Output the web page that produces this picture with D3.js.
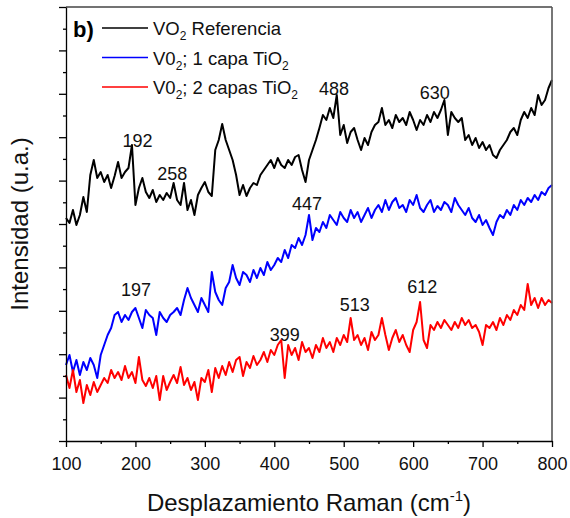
<!DOCTYPE html>
<html>
<head>
<meta charset="utf-8">
<script src="https://cdn.jsdelivr.net/npm/d3@7"></script>
<style>
  body { margin: 0; background: #fff; }
  svg { font-family: "Liberation Sans", Arial, sans-serif; }
</style>
</head>
<body>
<svg width="570" height="518"></svg>
<script>
"use strict";

// Raman shift, 100..800 cm-1 every 5
const shift = d3.range(100, 801, 5);

// intensities (a.u.)
const refVO2 = [223, 218, 231, 216, 226, 244, 229, 266, 281, 263, 269, 259, 266, 253, 265, 279, 263, 269, 273, 296,
  236, 253, 263, 249, 243, 251, 239, 246, 241, 248, 243, 258, 241, 236, 258, 231, 241, 226, 246, 253,
  259, 249, 245, 291, 301, 317, 301, 291, 281, 266, 246, 256, 245, 253, 258, 256, 266, 271, 276, 281,
  273, 283, 276, 273, 281, 276, 284, 286, 271, 259, 281, 291, 301, 313, 326, 321, 333, 323, 346, 306,
  316, 298, 309, 313, 301, 291, 303, 296, 309, 316, 319, 333, 316, 321, 313, 326, 319, 323, 316, 329,
  321, 311, 321, 316, 326, 319, 329, 323, 331, 341, 306, 329, 323, 319, 323, 301, 306, 296, 303, 293,
  299, 291, 296, 286, 283, 291, 296, 301, 309, 313, 306, 321, 329, 323, 333, 326, 346, 336, 341, 353, 361];

const tio2One = [76, 86, 69, 81, 66, 79, 71, 83, 76, 63, 86, 96, 106, 113, 126, 129, 119, 126, 121, 129,
  133, 123, 113, 131, 126, 123, 106, 129, 123, 119, 126, 129, 133, 126, 141, 153, 143, 136, 129, 143,
  136, 129, 169, 149, 141, 136, 153, 159, 176, 163, 156, 169, 166, 159, 171, 163, 173, 166, 179, 171,
  176, 183, 179, 191, 183, 196, 193, 203, 196, 206, 226, 201, 213, 209, 219, 213, 226, 221, 216, 229,
  223, 219, 231, 223, 229, 219, 226, 233, 223, 231, 236, 229, 241, 231, 239, 243, 233, 236, 229, 241,
  236, 246, 233, 229, 236, 241, 229, 235, 231, 239, 236, 229, 243, 236, 231, 226, 233, 223, 219, 226,
  216, 221, 213, 206, 219, 226, 223, 231, 226, 236, 231, 241, 236, 243, 239, 246, 241, 249, 246, 253, 256];

const tio2Two = [66, 53, 71, 49, 61, 38, 56, 46, 59, 49, 56, 63, 58, 71, 63, 69, 61, 75, 63, 69,
  58, 84, 61, 55, 63, 53, 65, 41, 65, 51, 59, 66, 58, 74, 56, 63, 51, 59, 41, 63,
  59, 71, 49, 73, 63, 75, 66, 79, 69, 81, 84, 65, 79, 73, 85, 76, 81, 89, 79, 91,
  86, 96, 101, 63, 96, 86, 93, 81, 99, 89, 93, 83, 96, 89, 103, 93, 99, 89, 103, 96,
  106, 99, 123, 101, 106, 96, 103, 91, 109, 101, 106, 123, 106, 91, 103, 111, 99, 106, 96, 89,
  111, 119, 139, 101, 93, 116, 111, 119, 113, 121, 116, 111, 119, 113, 123, 116, 121, 113, 116, 109,
  96, 116, 113, 119, 111, 123, 116, 126, 121, 131, 126, 136, 131, 157, 136, 143, 133, 143, 136, 141, 138];

const seriesNames = ["Referencia", "1 capa", "2 capas"];
const seriesColors = ["#000000", "#0000ff", "#ff0000"];

// peak labels: text, shift, intensity of baseline
const peakText = ["192", "258", "488", "630", "447", "197", "399", "513", "612"];
const peakX = [203, 253, 486, 631, 447, 201, 415, 516, 613];
const peakY = [294, 261, 346, 342, 231, 145, 100, 130, 148];

const xTicks = d3.range(100, 801, 100);
const xMinor = d3.range(150, 800, 100);

const svg = d3.select("svg");
const margin = { top: 7, right: 18, bottom: 77, left: 66 };
const W = 570 - margin.left - margin.right,
      H = 518 - margin.top - margin.bottom;

const x = d3.scaleLinear().domain([100, 800]).range([0, W]);
const y = d3.scaleLinear().domain([0, 434]).range([H, 0]);

const g = svg.append("g").attr("transform", `translate(${margin.left},${margin.top})`);

// series
const line = d3.line().x((d, i) => x(shift[i])).y(d => y(d));
[refVO2, tio2One, tio2Two].forEach((s, k) => {
    g.append("path")
    .datum(s)
    .attr("d", line)
    .attr("fill", "none")
    .attr("stroke", seriesColors[k])
    .attr("stroke-width", 2)
    .attr("stroke-linejoin", "round");
});

// frame top / right
g.append("line").attr("x1", 0).attr("x2", W).attr("y1", 0).attr("y2", 0)
  .attr("stroke", "#444").attr("stroke-width", 1.4);
g.append("line").attr("x1", W).attr("x2", W).attr("y1", 0).attr("y2", H)
  .attr("stroke", "#555").attr("stroke-width", 1.6);

// x axis
const xAxis = g.append("g").attr("transform", `translate(0,${H})`)
  .call(d3.axisBottom(x).tickValues(xTicks).tickSize(6).tickPadding(10).tickSizeOuter(0));
g.append("g").attr("transform", `translate(0,${H})`)
  .call(d3.axisBottom(x).tickValues(xMinor).tickSize(3).tickFormat("").tickSizeOuter(0))
  .select(".domain").remove();
xAxis.selectAll("text").attr("font-size", 18).attr("font-family", "Liberation Sans, Arial").attr("fill", "#111");

// y axis (no labels)
const yMajor = d3.range(0, 10.01, 1).map(v => v * 43.4);
const yMinor = d3.range(0.5, 10, 1).map(v => v * 43.4);
g.append("g")
  .call(d3.axisLeft(y).tickValues(yMajor).tickSize(7).tickFormat("").tickSizeOuter(0));
g.append("g")
  .call(d3.axisLeft(y).tickValues(yMinor).tickSize(3).tickFormat("").tickSizeOuter(0))
  .select(".domain").remove();
g.selectAll(".domain, .tick line").attr("stroke", "#000").attr("stroke-width", 1.3);

// peak labels
g.selectAll("text.peak")
  .data(peakText)
  .enter()
  .append("text")
  .attr("class", "peak")
  .attr("x", (d, i) => x(peakX[i]))
  .attr("y", (d, i) => y(peakY[i]))
  .attr("text-anchor", "middle")
  .attr("font-size", 18)
  .attr("fill", "#111")
  .text(d => d);

// legend
const leg = g.append("g").attr("transform", "translate(7,0)");
leg.append("text").attr("x", 0).attr("y", 30).attr("font-size", 22).attr("font-weight", "bold").text("b)");
const legRows = [
  ["VO", "2", " Referencia", ""],
  ["V0", "2", "; 1 capa TiO", "2"],
  ["V0", "2", "; 2 capas TiO", "2"]
];
legRows.forEach((r, i) => {
    let row = leg.append("g").attr("transform", `translate(0,${21 + i * 29.5})`);
    row.append("line").attr("x1", 29).attr("x2", 75).attr("y1", 0).attr("y2", 0)
      .attr("stroke", seriesColors[i]).attr("stroke-width", 1.6);
    let t = row.append("text").attr("x", 80).attr("y", 7).attr("font-size", 18.5).attr("fill", "#111");
    t.append("tspan").text(r[0]);
    t.append("tspan").attr("font-size", 12).attr("dy", 5).text(r[1]);
    t.append("tspan").attr("dy", -5).text(r[2]);
    if (r[3]) t.append("tspan").attr("font-size", 12).attr("dy", 5).text(r[3]);
});

// axis titles
const xt = svg.append("text")
  .attr("x", margin.left + W / 2).attr("y", 511)
  .attr("text-anchor", "middle").attr("font-size", 24).attr("fill", "#111");
xt.append("tspan").text("Desplazamiento Raman (cm");
xt.append("tspan").attr("font-size", 15).attr("dy", -10).text("-1");
xt.append("tspan").attr("dy", 10).text(")");

svg.append("text")
  .attr("transform", `translate(28,${margin.top + H / 2}) rotate(-90)`)
  .attr("text-anchor", "middle").attr("font-size", 24).attr("fill", "#111")
  .text("Intensidad (u.a.)");
</script>
</body>
</html>
